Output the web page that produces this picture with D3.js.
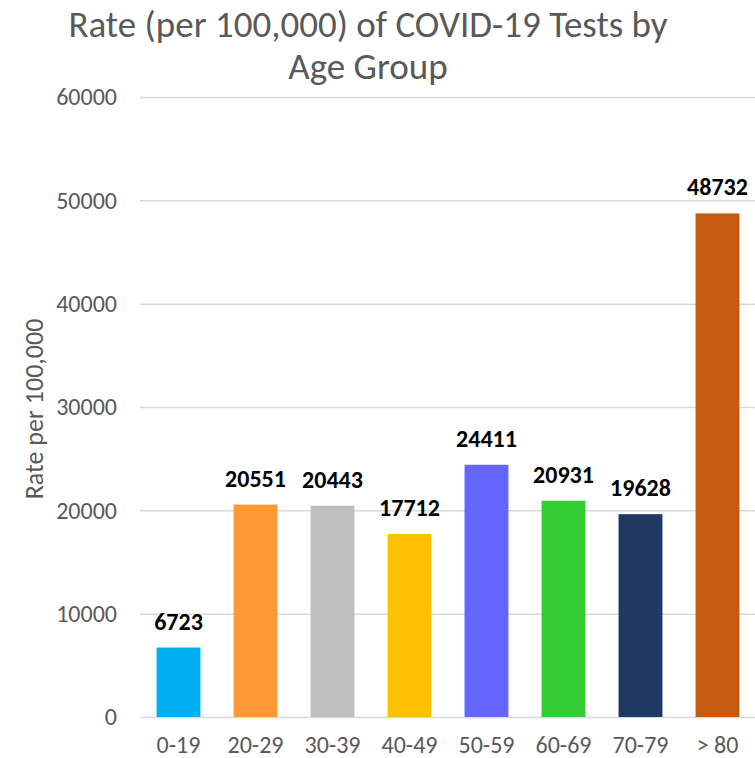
<!DOCTYPE html>
<meta charset="utf-8">
<style>
body{margin:0;background:#fff;}
svg{display:block}
text{font-family:Calibri,Carlito,"Open Sans",sans-serif;}
</style>
<svg id="chart" width="755" height="758"></svg>
<script src="https://cdn.jsdelivr.net/npm/d3@7"></script>
<script>
// data
const ageGroups = ['0-19', '20-29', '30-39', '40-49', '50-59', '60-69', '70-79', '> 80']
const rates = [6723, 20551, 20443, 17712, 24411, 20931, 19628, 48732]
const barColors = ['#00B0F0', '#FF9933', '#BFBFBF', '#FFC000', '#6666FF', '#33CC33', '#1F3864', '#C55A11']
const yTicks = [0, 10000, 20000, 30000, 40000, 50000, 60000]

const svg = d3.select('#chart')

// plot box (window.top is taken, hence the names)
const plotLeft = 140, plotRight = 756, plotTop = 97, plotBottom = 717

const x = d3.scaleBand()
  .domain(ageGroups)
  .range([plotLeft, plotRight])
  .paddingInner(0.43)
  .paddingOuter(0.215)

const y = d3.scaleLinear()
  .domain([0, 60000])
  .range([plotBottom, plotTop])

// gridlines + y tick labels
const yAxis = d3.axisLeft(y)
  .tickValues(yTicks)
  .tickSize(-(plotRight - plotLeft))
  .tickPadding(23)
  .tickFormat(d3.format('d'))

svg.append('g')
  .attr('transform', `translate(${plotLeft},0)`)
  .call(yAxis)
  .call(g => g.select('.domain').remove())
  .call(g => g.selectAll('line').attr('stroke', '#D9D9D9').attr('stroke-width', 1.5))
  .call(g => g.selectAll('text')
    .attr('fill', '#595959')
    .style('font-size', '24px'))

// x tick labels
const xAxis = d3.axisBottom(x).tickSize(0).tickPadding(19)
svg.append('g')
  .attr('transform', `translate(0,${plotBottom})`)
  .call(xAxis)
  .call(g => g.select('.domain').remove())
  .call(g => g.selectAll('text')
    .attr('fill', '#595959')
    .style('font-size', '24px'))

// bars
svg.append('g').selectAll('rect')
  .data(rates)
  .join('rect')
  .attr('x', (d, i) => x(ageGroups[i]))
  .attr('y', d => y(d))
  .attr('width', x.bandwidth())
  .attr('height', d => y(0) - y(d))
  .attr('fill', (d, i) => barColors[i])

// value labels
svg.append('g').selectAll('text')
  .data(rates)
  .join('text')
  .attr('x', (d, i) => x(ageGroups[i]) + x.bandwidth() / 2)
  .attr('y', d => y(d) - 18)
  .attr('text-anchor', 'middle')
  .style('font-size', '24px')
  .style('font-weight', 'bold')
  .attr('fill', '#000')
  .text(d => d)

// y axis title
svg.append('text')
  .attr('transform', 'translate(43,409) rotate(-90)')
  .attr('text-anchor', 'middle')
  .attr('fill', '#595959')
  .style('font-size', '26px')
  .text('Rate per 100,000')

// chart title, two lines like the original
const title = svg.append('text')
  .attr('text-anchor', 'middle')
  .attr('fill', '#595959')
  .style('font-size', '37px')
title.append('tspan').attr('x', 368).attr('y', 37).text('Rate (per 100,000) of COVID-19 Tests by')
title.append('tspan').attr('x', 368).attr('y', 79).text('Age Group')
</script>
